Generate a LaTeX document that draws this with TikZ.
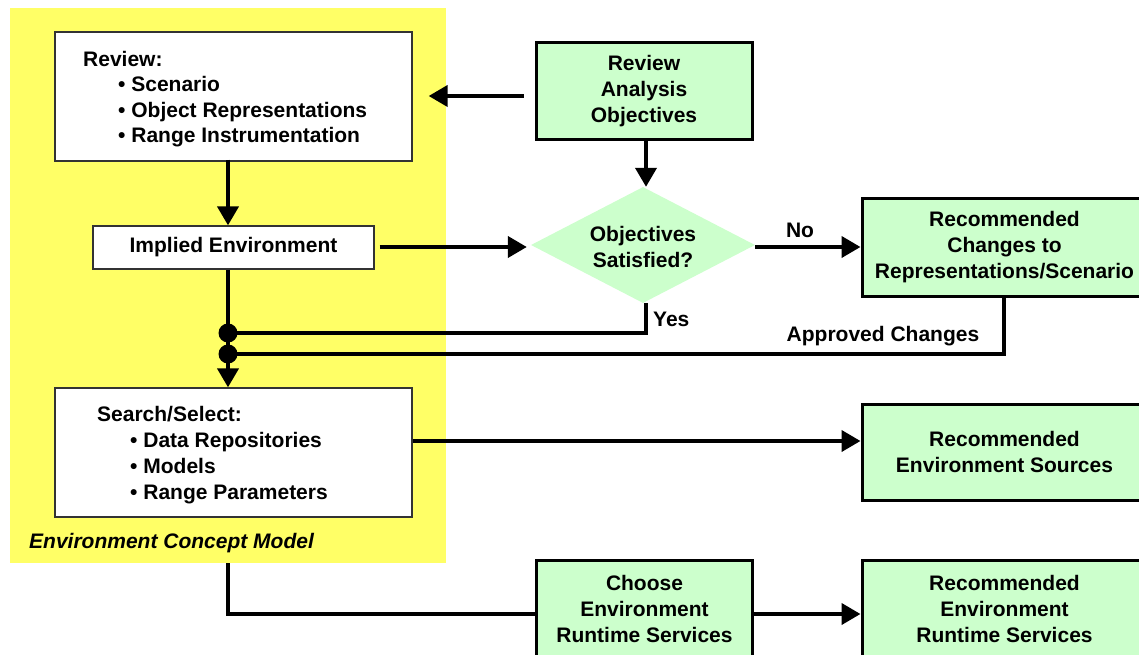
\documentclass[tikz,border=0pt]{standalone}
\usepackage{fontspec}
\setmainfont{Liberation Sans}
\usetikzlibrary{arrows.meta,shapes.geometric}
\definecolor{ylw}{HTML}{FFFF66}
\definecolor{grn}{HTML}{CCFFCC}
\definecolor{edge}{HTML}{333333}
\tikzset{
  txt/.style={font=\fontsize{21}{26}\selectfont\bfseries, inner sep=0pt},
  whitebox/.style={draw=edge, line width=1.3pt, fill=white, inner sep=0pt},
  greenbox/.style={draw=black, line width=3pt, fill=grn, inner sep=0pt, align=center,
    font=\fontsize{21}{26}\selectfont\bfseries},
  conn/.style={line width=4pt},
  arr/.style={line width=4pt, -{Triangle[length=19pt,width=21pt]}},
  dot/.style={circle, fill=black, minimum size=19pt, inner sep=0pt},
}
\begin{document}
\begin{tikzpicture}[x=1pt,y=-1pt]
\useasboundingbox (0,0) rectangle (1139,655);
\fill[white] (0,0) rectangle (1139,655);
% yellow area
\node[fill=ylw, minimum width=436pt, minimum height=555pt, inner sep=0pt] (ecm) at (228,285.5) {};
\coordinate (col) at (228,0);
% white boxes
\node[whitebox, minimum width=357pt, minimum height=129pt] (rev) at (233.5,96.5) {};
\node[txt, anchor=base west, align=left, font=\fontsize{21}{25.6}\selectfont\bfseries] (revt) at (83,143)
  {Review:\\\hspace*{35pt}• Scenario\\\hspace*{35pt}• Object Representations\\\hspace*{35pt}• Range Instrumentation};
\node[whitebox, minimum width=281pt, minimum height=43pt, txt] (imp) at (233.5,247.5) {Implied Environment};
\node[whitebox, minimum width=357pt, minimum height=129pt] (sea) at (233.5,452.5) {};
\node[txt, anchor=base west, align=left, font=\fontsize{21}{26}\selectfont\bfseries] (seat) at (97,499)
  {Search/Select:\\\hspace*{33pt}• Data Repositories\\\hspace*{33pt}• Models\\\hspace*{33pt}• Range Parameters};
\node[anchor=base west, inner sep=0pt, font=\fontsize{21}{26}\selectfont\bfseries\itshape] (ecml) at (29,548) {Environment Concept Model};
% green boxes
\node[greenbox, minimum width=216pt, minimum height=97pt] (rao) at (644,91.5) {Review\\Analysis\\Objectives};
\node[diamond, fill=grn, minimum width=224pt, minimum height=116pt, inner sep=0pt] (dia) at (643,245) {};
\node[txt, align=center] (diat) at (643,247) {Objectives\\Satisfied?};
\node[greenbox, minimum width=285pt, minimum height=98pt] (rcs) at (1004.5,247) {Recommended\\Changes to\\Representations/Scenario};
\node[greenbox, minimum width=285pt, minimum height=96pt] (res) at (1004.5,452) {Recommended\\Environment Sources};
\node[greenbox, minimum width=216pt, minimum height=98pt] (cho) at (644.5,609) {Choose\\Environment\\Runtime Services};
\node[greenbox, minimum width=285pt, minimum height=98pt] (rrs) at (1004.5,609) {Recommended\\Environment\\Runtime Services};
% dots
\node[dot] (d1) at (228,333) {};
\node[dot] (d2) at (228,354) {};
% connectors
\draw[arr] ([xshift=-11pt]rao.west |- 0,96) -- ([xshift=16pt]rev.east |- 0,96);
\draw[arr] ([yshift=2pt]rev.south -| col) -- (imp.north -| col);
\draw[arr] ([xshift=5pt]imp.east |- 0,247) -- ([xshift=-4pt]dia.west |- 0,247);
\draw[arr] (dia.east |- 0,247) -- (rcs.west |- 0,247);
\node[txt] (no) at (800,230) {No};
\draw[conn] (dia.south -| 646,0) -- (646,333) -- (d1.center);
\node[txt, anchor=west] (yes) at (653,319) {Yes};
\draw[conn] (rcs.south -| 1004,0) -- (1004,354) -- (d2.center);
\node[txt] (apc) at (883,336) {Approved Changes};
\draw[conn] (imp.south -| col) -- (d2.center);
\draw[arr] (d2.center) -- (sea.north -| col);
\draw[arr] (sea.east |- 0,441) -- (res.west |- 0,441);
\draw[conn] (ecm.south -| col) -- (228,614) -- (cho.west |- 0,614);
\draw[arr] (cho.east |- 0,614) -- (rrs.west |- 0,614);
\draw[arr] (rao.south -| 646,0) -- (dia.north -| 646,0);
\end{tikzpicture}
\end{document}
